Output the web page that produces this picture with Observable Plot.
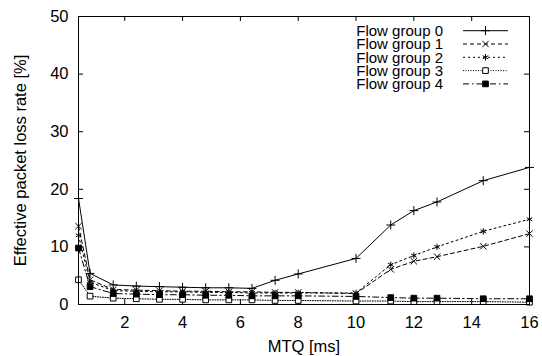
<!DOCTYPE html>
<html>
<head>
<meta charset="utf-8">
<script src="https://cdn.jsdelivr.net/npm/d3@7"></script>
<script src="https://cdn.jsdelivr.net/npm/@observablehq/plot@0.6"></script>
<style>
  html, body { margin: 0; padding: 0; background: #fff; }
  #chart { width: 542px; height: 356px; }
</style>
</head>
<body>
<div id="chart"></div>
<script>
// MTQ settings (ms) at which the loss rate was measured
const mtq = [0.4, 0.8, 1.6, 2.4, 3.2, 4.0, 4.8, 5.6, 6.4, 7.2, 8.0, 10.0, 11.2, 12.0, 12.8, 14.4, 16.0];

// Effective packet loss rate (%) per flow group
const group0 = [18.4, 5.4, 3.4, 3.2, 3.1, 3.0, 2.9, 2.9, 2.8, 4.2, 5.3, 8.0, 13.8, 16.3, 17.8, 21.5, 23.8];
const group1 = [13.6, 4.3, 2.6, 2.5, 2.4, 2.3, 2.3, 2.2, 2.2, 2.1, 2.1, 1.9, 6.1, 7.5, 8.3, 10.1, 12.3];
const group2 = [12.0, 3.9, 2.4, 2.3, 2.2, 2.2, 2.1, 2.1, 2.0, 2.0, 2.0, 2.0, 6.9, 8.5, 10.0, 12.7, 14.8];
const group3 = [4.3, 1.45, 1.1, 1.0, 0.9, 0.9, 0.8, 0.8, 0.8, 0.7, 0.7, 0.6, 0.6, 0.5, 0.5, 0.5, 0.4];
const group4 = [9.8, 3.1, 1.9, 1.8, 1.7, 1.7, 1.6, 1.6, 1.5, 1.5, 1.5, 1.4, 1.2, 1.1, 1.1, 1.0, 1.0];

const groupNames = ["Flow group 0", "Flow group 1", "Flow group 2", "Flow group 3", "Flow group 4"];
const xTicks = [2, 4, 6, 8, 10, 12, 14, 16];
const yTicks = [0, 10, 20, 30, 40, 50];
const xLabel = "MTQ [ms]";
const yLabel = "Effective packet loss rate [%]";

// line / point style for each group (gnuplot-like linespoints)
const styles = [
  {dash: null,        symbol: "plus",     d3sym: d3.symbolPlus,     fill: "none",  r: 3},
  {dash: "4,3",       symbol: "times",    d3sym: d3.symbolTimes,    fill: "none",  r: 3},
  {dash: "2,3",       symbol: "asterisk", d3sym: d3.symbolAsterisk, fill: "none",  r: 3},
  {dash: "1,1.5",     symbol: "square",   d3sym: d3.symbolSquare,   fill: "white", r: 3.2},
  {dash: "6,3,1.5,3", symbol: "square",   d3sym: d3.symbolSquare,   fill: "black", r: 3.2}
];

const series = [group0, group1, group2, group3, group4];
const rows = series.map((vals, g) => vals.map((v, i) => ({group: g, mtq: mtq[i], loss: v})));

const width = 542, height = 356;
const mL = 78, mR = 13, mT = 16, mB = 52;
const W = width - mL - mR, H = height - mT - mB;
const tick = 5;
const font = "'Liberation Sans', Arial, sans-serif";

const marks = [];
rows.forEach((data, g) => {
  const s = styles[g];
  marks.push(Plot.line(data, {x: "mtq", y: "loss", stroke: "black", strokeWidth: 1, strokeDasharray: s.dash}));
});
rows.forEach((data, g) => {
  const s = styles[g];
  marks.push(Plot.dot(data, {x: "mtq", y: "loss", symbol: s.symbol, r: s.r, stroke: "black", strokeWidth: 1, fill: s.fill}));
});

const chart = Plot.plot({
  width, height,
  marginLeft: mL, marginRight: mR, marginTop: mT, marginBottom: mB,
  style: {fontFamily: font, fontSize: "16px", color: "black", background: "white", overflow: "visible"},
  x: {domain: [0.4, 16]},
  y: {domain: [0, 50]},
  marks: [
    // inward ticks on all four sides
    Plot.tickY(yTicks, {y: d => d, stroke: "black", insetRight: W - tick}),
    Plot.tickY(yTicks, {y: d => d, stroke: "black", insetLeft: W - tick}),
    Plot.tickX(xTicks, {x: d => d, stroke: "black", insetTop: H - tick}),
    Plot.tickX(xTicks, {x: d => d, stroke: "black", insetBottom: H - tick}),
    Plot.axisX(xTicks, {tickSize: 0, tickPadding: 12, label: null, fill: "black", fontSize: 16.5}),
    Plot.axisY(yTicks, {tickSize: 0, tickPadding: 10, label: null, fill: "black", fontSize: 16.5}),
    ...marks,
    Plot.frame({stroke: "black", strokeWidth: 1}),
    Plot.text([xLabel], {frameAnchor: "bottom", dy: 47, lineAnchor: "bottom", textAnchor: "middle", fontSize: 16.5, fill: "black"}),
    Plot.text([yLabel], {frameAnchor: "left", dx: -53, rotate: -90, lineAnchor: "bottom", textAnchor: "middle", fontSize: 16.5, fill: "black"})
  ]
});

// key in the upper right of the plot area
const svg = d3.select(chart);
const key = svg.append("g").attr("font-family", font).attr("font-size", 15).attr("fill", "black");
groupNames.forEach((name, g) => {
  const s = styles[g];
  const cy = 30.7 + g * 13.3;
  key.append("text").attr("x", 443).attr("y", cy).attr("dy", "0.35em")
    .attr("text-anchor", "end").text(name);
  key.append("line").attr("x1", 463).attr("x2", 508).attr("y1", cy).attr("y2", cy)
    .attr("stroke", "black").attr("stroke-width", 1)
    .attr("stroke-dasharray", s.dash);
  key.append("path").attr("transform", `translate(485.5,${cy})`)
    .attr("d", d3.symbol(s.d3sym, Math.PI * s.r * s.r)())
    .attr("stroke", "black").attr("fill", s.fill).attr("stroke-width", 1);
});

document.getElementById("chart").appendChild(chart);
</script>
</body>
</html>
